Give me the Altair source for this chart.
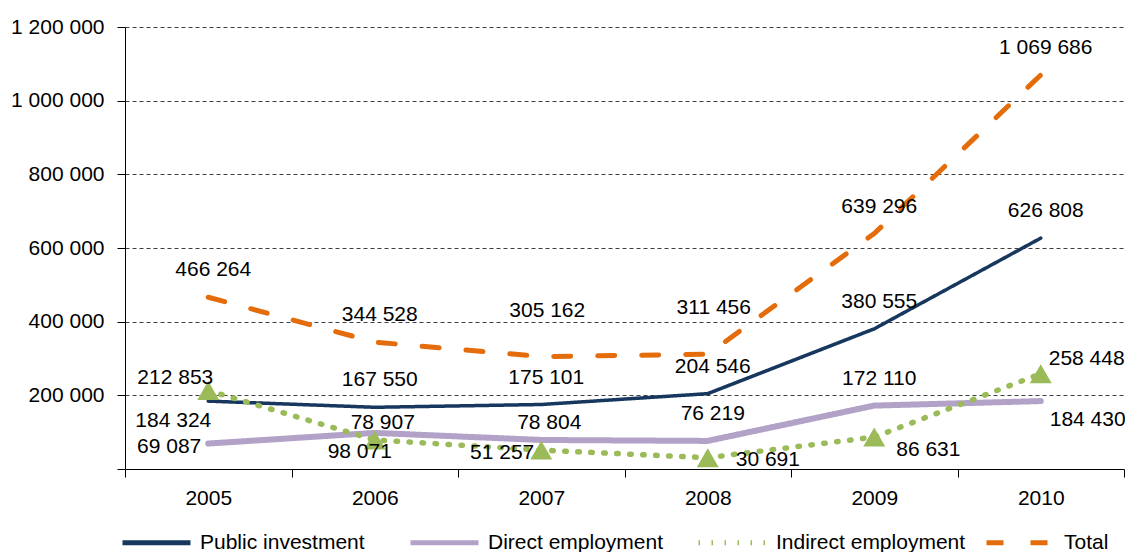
import altair as alt
import pandas as pd

FONT = "Liberation Sans"

years = ["2005", "2006", "2007", "2008", "2009", "2010"]
series_names = ["Public investment", "Direct employment", "Indirect employment", "Total"]
public_investment = [184324, 167550, 175101, 204546, 380555, 626808]
direct_employment = [69087, 98071, 78804, 76219, 172110, 184430]
indirect_employment = [212853, 78907, 51257, 30691, 86631, 258448]
total = [466264, 344528, 305162, 311456, 639296, 1069686]
y_ticks = [0, 200000, 400000, 600000, 800000, 1000000, 1200000]

# where each data label sits relative to its point (keyword only)
pi_side = ["below_left", "above", "above", "above", "above", "above"]
direct_side = ["left", "below", "near_above", "above", "above", "below_right_edge"]
indirect_side = ["above_left", "near_above", "left", "right", "below_right", "above_right"]
total_side = ["above", "above", "high", "high", "above", "above"]

colors = ["#17375E", "#B3A2C7", "#9BBB59", "#E46C0A"]
dashes = [[1, 0], [1, 0], [1.5, 11.5], [17, 27]]

rows = []
for name, vals, sides in zip(
    series_names,
    [public_investment, direct_employment, indirect_employment, total],
    [pi_side, direct_side, indirect_side, total_side],
):
    for yr, v, s in zip(years, vals, sides):
        rows.append({"year": yr, "series": name, "value": v,
                     "label": f"{v:,}".replace(",", " "), "side": s})
df = pd.DataFrame(rows)

base = alt.Chart(df)

x = alt.X("year:O", title=None,
          scale=alt.Scale(type="band", paddingInner=0, paddingOuter=0),
          axis=alt.Axis(labelAngle=0, tickBand="extent", tickSize=8, labelPadding=10,
                        labelFontSize=21, labelFont=FONT, labelColor="black",
                        domainColor="black", tickColor="black", grid=False, zindex=2))
y = alt.Y("value:Q", title=None,
          scale=alt.Scale(domain=[0, 1200000], nice=False, zero=True),
          axis=alt.Axis(values=y_ticks, tickSize=8, labelPadding=13,
                        labelExpr="datum.value == 0 ? '' : replace(format(datum.value, ','), regexp(',', 'g'), ' ')",
                        labelFontSize=21, labelFont=FONT, labelColor="black",
                        domainColor="black", tickColor="black",
                        grid=True, gridColor="#404040", gridDash=[4, 3], gridWidth=1))

legend = alt.Legend(title=None, orient="none", legendX=-5, legendY=479,
                    direction="horizontal", columns=4, gridAlign="all", columnPadding=10,
                    symbolType="stroke", symbolSize=4624, symbolStrokeWidth=5,
                    labelFontSize=21, labelFont=FONT, labelColor="black", labelOffset=7,
                    labelLimit=0)

stroke_width = {
    "condition": [
        {"test": "datum.series == 'Direct employment'", "value": 6},
        {"test": "datum.series == 'Indirect employment'", "value": 5.5},
        {"test": "datum.series == 'Total'", "value": 5},
    ],
    "value": 3.5,
}

lines = base.mark_line(strokeCap="round", strokeJoin="round").encode(
    x=x, y=y,
    stroke=alt.Stroke("series:N", scale=alt.Scale(domain=series_names, range=colors), legend=legend),
    strokeDash=alt.StrokeDash("series:N", scale=alt.Scale(domain=series_names, range=dashes), legend=legend),
    strokeWidth=stroke_width,
)

triangles = base.transform_filter(alt.datum.series == "Indirect employment").mark_point(
    shape="triangle-up", filled=True, size=480, color="#9BBB59", opacity=1
).encode(x=x, y=y)

placements = {
    "above": ("center", 5, -27),
    "high": ("center", 6, -46),
    "near_above": ("center", 8, -17),
    "below": ("center", -15, 19),
    "below_left": ("right", 3, 20),
    "left": ("right", -7, 3),
    "above_left": ("right", 5, -13),
    "right": ("left", 28, 2),
    "below_right": ("left", 22, 13),
    "below_right_edge": ("left", 9, 19),
    "above_right": ("left", 8, -15),
}

label_layers = []
for key, (align, dx, dy) in placements.items():
    label_layers.append(
        base.transform_filter(alt.datum.side == key).mark_text(
            align=align, dx=dx, dy=dy, baseline="middle",
            fontSize=21, font=FONT, color="black"
        ).encode(x=x, y=y, text="label:N")
    )

chart = alt.layer(lines, triangles, *label_layers).properties(
    width=999, height=442,
    padding={"left": 117, "top": 19, "right": 1, "bottom": 83},
    autosize=alt.AutoSizeParams(type="none"),
).configure_view(stroke=None)

chart.save("out.html", embed_options={"renderer": "svg", "actions": False})
